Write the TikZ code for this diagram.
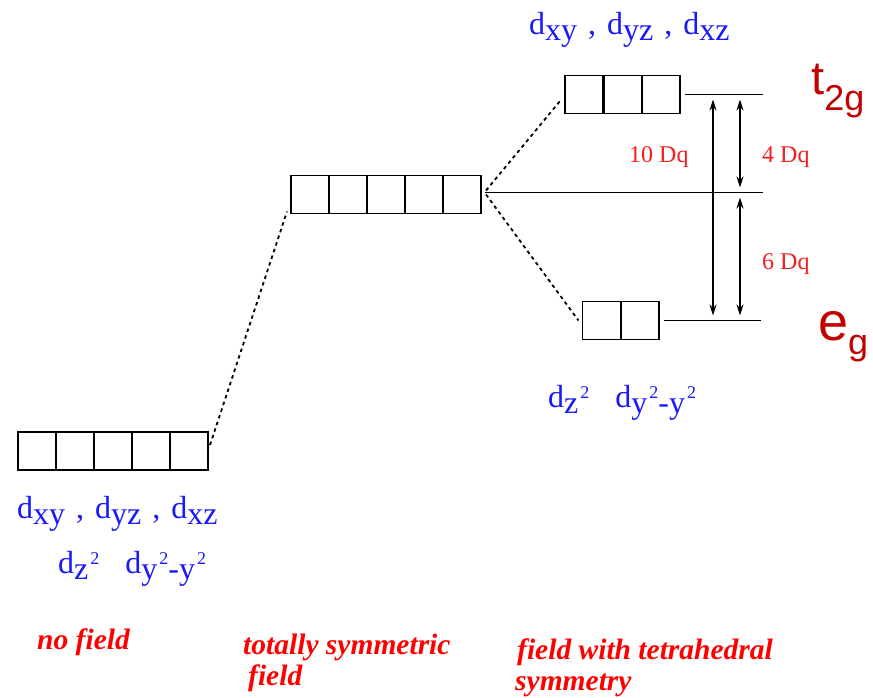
\documentclass[tikz,border=0pt]{standalone}
\usepackage{fontspec}
\setmainfont{Liberation Serif}
\newfontfamily\lsans{Liberation Sans}
\usetikzlibrary{arrows.meta}

\definecolor{orbblue}{RGB}{25,25,250}
\definecolor{dqred}{RGB}{245,30,30}
\definecolor{symred}{RGB}{195,0,0}

\newcommand{\dsub}[1]{d\raisebox{-6pt}{#1}}
\newcommand{\sqr}{\hspace{2pt}\raisebox{15pt}{\fontsize{18}{18}\selectfont 2}}
\newcommand{\csep}{\hspace{3pt} , \hspace{3pt}}

\begin{document}
\begin{tikzpicture}[x=1pt, y=-1pt,
    orb/.style={draw, line width=1.8pt, minimum width=38pt, minimum height=38pt,
                inner sep=0pt, outer sep=0pt},
    lvl/.style={line width=1.6pt},
    link/.style={line width=1.8pt, dash pattern=on 3.5pt off 3.5pt},
    dq/.style={{Stealth[length=11pt,width=7pt]}-{Stealth[length=11pt,width=7pt]},
               line width=1.6pt, shorten <=5pt, shorten >=5pt},
    dlab/.style={text=orbblue, font=\fontsize{32}{32}\selectfont, inner sep=0pt,
                 anchor=base west},
    dqlab/.style={text=dqred, font=\fontsize{24}{24}\selectfont, inner sep=0pt,
                  anchor=base west},
    sym/.style={text=symred, font=\lsans\fontsize{47}{47}\selectfont, inner sep=0pt,
                anchor=base west},
    fieldlab/.style={text=red, font=\bfseries\itshape\fontsize{29.5}{31}\selectfont,
                     align=left, inner sep=0pt, anchor=north west}
]
\useasboundingbox (0,0) rectangle (873,698);

% no field
\foreach \i in {1,...,5}
    \node[orb] (f\i) at ({-1+38*\i}, 451) {};
\node[dlab] (fa) at (17, 518) {\dsub{xy}\csep\dsub{yz}\csep\dsub{xz}};
\node[dlab] (fb) at (58, 573) {\dsub{z\sqr}\hspace{26pt}\dsub{y\sqr-y\sqr}};

% totally symmetric field
\foreach \i in {1,...,5}
    \node[orb] (s\i) at ({272+38*\i}, 194.5) {};

% tetrahedral field
\foreach \i in {1,...,3}
    \node[orb] (t\i) at ({546+38.3*\i}, 94.5) {};
\foreach \i in {1,2}
    \node[orb] (e\i) at ({563+38.5*\i}, 320.5) {};
\node[dlab] (ta) at (529, 35) {\dsub{xy}\csep\dsub{yz}\csep\dsub{xz}};
\node[dlab] (ea) at (548, 407) {\dsub{z\sqr}\hspace{26pt}\dsub{y\sqr-y\sqr}};

% levels
\coordinate (tR) at (763, 94);
\coordinate (bR) at (763, 192);
\coordinate (eR) at (761, 322);
\coordinate (ax) at (713, 0);
\coordinate (bx) at (740, 0);
\draw[lvl] ([xshift=5pt]t3.east) -- (t3.east -| tR);
\draw[lvl] ([xshift=4pt,yshift=2pt]s5.east) -- ([yshift=2pt]s5.east -| bR);
\draw[lvl] ([xshift=5pt]e2.east) -- (e2.east -| eR);

% correlation
\draw[link] ([xshift=2pt,yshift=-13pt]f5.north east) -- ([xshift=-4pt,yshift=2pt]s1.south west);
\draw[link] ([xshift=5pt,yshift=4pt]s5.east) -- ([xshift=-4pt,yshift=-5pt]t1.west);
\draw[link] ([xshift=5pt]s5.east) -- ([xshift=-4pt]e1.west);

% splitting
\draw[dq] (t3.east -| ax) -- (e2.east -| ax);
\draw[dq] (t3.east -| bx) -- ([yshift=2pt]s5.east -| bx);
\draw[dq] ([yshift=2pt]s5.east -| bx) -- (e2.east -| bx);
\node[dqlab] (d10) at (629, 163) {10 Dq};
\node[dqlab] (d4)  at (762, 163) {4 Dq};
\node[dqlab] (d6)  at (762, 269) {6 Dq};

\node[sym] (t2g) at (811, 95) {t\raisebox{-16pt}{\fontsize{36}{36}\selectfont 2g}};
\node[sym, font=\lsans\fontsize{54}{54}\selectfont] (eg) at (818, 340)
    {e\raisebox{-14pt}{\fontsize{36}{36}\selectfont g}};

% captions
\node[fieldlab] (c1) at (37, 629) {no field};
\node[fieldlab] (c2) at (243, 634) {totally symmetric\\\hspace{5pt}field};
\node[fieldlab] (c3) at (515, 639) {\hspace{2pt}field with tetrahedral\\symmetry};
\end{tikzpicture}
\end{document}
